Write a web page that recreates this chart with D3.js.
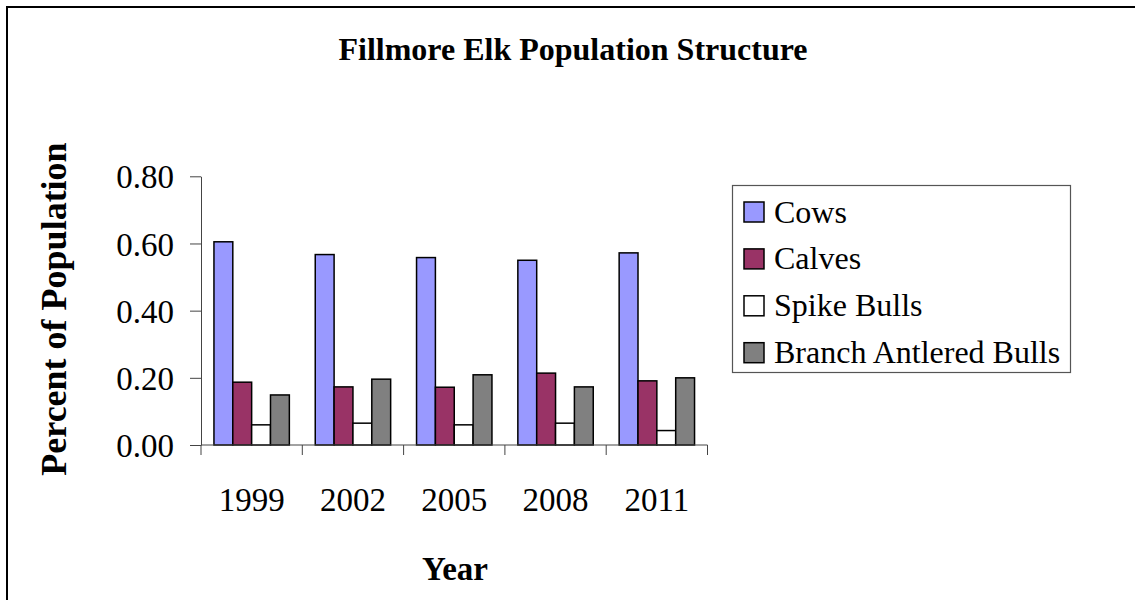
<!DOCTYPE html>
<html>
<head>
<meta charset="utf-8">
<script src="https://cdn.jsdelivr.net/npm/d3@7"></script>
<style>
  html, body { margin: 0; padding: 0; background: #fff; }
  svg { display: block; }
  text { font-family: "Liberation Serif", "Times New Roman", serif; fill: #000; }
</style>
</head>
<body>
<svg id="chart" width="1135" height="600"></svg>
<script>
// Elk herd composition by survey year (share of total population)
const years = ["1999", "2002", "2005", "2008", "2011"];
const seriesNames = ["Cows", "Calves", "Spike Bulls", "Branch Antlered Bulls"];
const cows = [0.605, 0.567, 0.558, 0.550, 0.572];
const calves = [0.187, 0.173, 0.172, 0.214, 0.191];
const spikeBulls = [0.060, 0.065, 0.060, 0.065, 0.043];
const branchBulls = [0.149, 0.196, 0.209, 0.173, 0.200];
const yTicks = [0, 0.2, 0.4, 0.6, 0.8];
const seriesColors = ["#9999FF", "#993366", "#FFFFFF", "#808080"];

const seriesValues = [cows, calves, spikeBulls, branchBulls];
const rows = years.map((yr, i) => ({
  year: yr,
  values: seriesNames.map((name, s) => ({ name, value: seriesValues[s][i] }))
}));

const svg = d3.select("#chart");

// outer chart frame
svg.append("rect")
  .attr("x", 7).attr("y", 7)
  .attr("width", 1140).attr("height", 610)
  .attr("fill", "none").attr("stroke", "#000").attr("stroke-width", 2);

const plot = { left: 201, right: 707.5, top: 176.3, bottom: 445 };

const x = d3.scaleBand().domain(years).range([plot.left, plot.right]).paddingInner(0).paddingOuter(0);
const xs = d3.scaleBand().domain(seriesNames).range([0, x.bandwidth()]).paddingInner(0).paddingOuter(0.687);
const y = d3.scaleLinear().domain([0, 0.8]).range([plot.bottom, plot.top]);
const color = d3.scaleOrdinal().domain(seriesNames).range(seriesColors);

// title
svg.append("text")
  .attr("x", 573).attr("y", 60)
  .attr("text-anchor", "middle")
  .attr("font-size", 32).attr("font-weight", "bold")
  .text("Fillmore Elk Population Structure");

// bars
const groups = svg.append("g").selectAll("g")
  .data(rows).join("g")
  .attr("transform", d => `translate(${x(d.year)},0)`);

groups.selectAll("rect")
  .data(d => d.values).join("rect")
  .attr("x", d => xs(d.name))
  .attr("y", d => y(d.value))
  .attr("width", xs.bandwidth())
  .attr("height", d => y(0) - y(d.value))
  .attr("fill", d => color(d.name))
  .attr("stroke", "#000").attr("stroke-width", 1.5);

// y axis
const yAxis = svg.append("g")
  .attr("transform", `translate(${plot.left},0)`)
  .call(d3.axisLeft(y).tickValues(yTicks).tickFormat(d3.format(".2f")).tickSize(11).tickPadding(16).tickSizeOuter(0));
yAxis.select(".domain").attr("stroke", "#444");
yAxis.selectAll(".tick line").attr("stroke", "#444");
yAxis.selectAll(".tick text")
  .attr("font-size", 33).attr("dy", "0.35em").attr("fill", "#000");

// x axis: baseline plus boundary ticks between year categories
const xAxis = svg.append("g");
xAxis.append("line")
  .attr("x1", plot.left).attr("x2", plot.right)
  .attr("y1", plot.bottom).attr("y2", plot.bottom)
  .attr("stroke", "#444");
const boundaries = years.map(yr => x(yr)).concat([x(years[years.length - 1]) + x.bandwidth()]);
xAxis.selectAll("line.tick")
  .data(boundaries).join("line")
  .attr("class", "tick")
  .attr("x1", d => d).attr("x2", d => d)
  .attr("y1", plot.bottom).attr("y2", plot.bottom + 10)
  .attr("stroke", "#444");
xAxis.selectAll("text")
  .data(years).join("text")
  .attr("x", d => x(d) + x.bandwidth() / 2)
  .attr("y", 511)
  .attr("text-anchor", "middle")
  .attr("font-size", 33)
  .text(d => d);

// axis titles
svg.append("text")
  .attr("transform", "translate(66,309) rotate(-90)")
  .attr("text-anchor", "middle")
  .attr("font-size", 36).attr("font-weight", "bold")
  .text("Percent of Population");

svg.append("text")
  .attr("x", 455).attr("y", 580)
  .attr("text-anchor", "middle")
  .attr("font-size", 33).attr("font-weight", "bold")
  .text("Year");

// legend
const legend = svg.append("g");
legend.append("rect")
  .attr("x", 732.5).attr("y", 185.5)
  .attr("width", 338).attr("height", 187)
  .attr("fill", "#fff").attr("stroke", "#555").attr("stroke-width", 1.2);

const items = legend.selectAll("g.item")
  .data(seriesNames).join("g")
  .attr("class", "item")
  .attr("transform", (d, i) => `translate(0,${222.5 + i * 46.9})`);
items.append("rect")
  .attr("x", 744).attr("y", -20.5)
  .attr("width", 20).attr("height", 20)
  .attr("fill", d => color(d))
  .attr("stroke", "#000").attr("stroke-width", 1.5);
items.append("text")
  .attr("x", 774).attr("y", 0)
  .attr("font-size", 32)
  .text(d => d);
</script>
</body>
</html>
